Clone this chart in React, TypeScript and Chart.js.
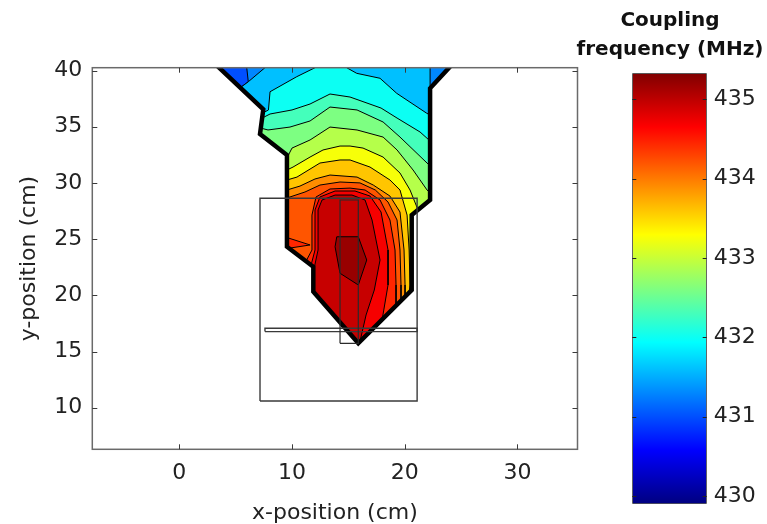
import React, { useEffect, useRef } from 'react';
import { Chart, registerables } from 'chart.js';

Chart.register(...registerables);

// ---------- axes ----------
const xTicks = [0, 10, 20, 30];
const yTicks = [10, 15, 20, 25, 30, 35, 40];
const xRange = [-7.72, 35.33];
const yRange = [6.3, 40.25];

// ---------- colour bar ----------
const colorbarRange = [429.9, 435.33];
const colorbarTicks = [430, 431, 432, 433, 434, 435];

// coupling frequency (MHz) of each filled contour band, lowest first
const contourLevels = [431.0, 431.3, 431.6, 432.0, 432.3, 432.6, 432.9, 433.25, 433.6, 433.9, 434.2, 434.45, 434.7, 434.95, 435.2];

// ---------- scanned region outline (cm) ----------
const scanBoundary: number[][] = [
  [2.74, 41], [7.45, 36.55], [7.16, 34.35], [9.55, 32.48], [9.55, 24.32], [11.89, 22.54], [11.89, 20.32],
  [15.88, 15.73], [20.62, 20.47], [20.62, 27.14], [22.25, 28.48], [22.25, 38.42], [24.63, 41],
];

// ---------- super-level regions (value >= level k), cm ----------
const region0 = scanBoundary;
const region1: number[][] = [
  [5.9, 41], [6.12, 39.0], [5.44, 38.49], [7.45, 36.55], [7.16, 34.35], [9.55, 32.48], [9.55, 24.32], [11.89, 22.54],
  [11.89, 20.32], [15.88, 15.73], [20.62, 20.47], [20.62, 27.14], [22.25, 28.48], [22.25, 38.42], [24.63, 41],
];
const region2: number[][] = [
  [7.75, 41], [7.6, 40.25], [6.12, 39.0], [5.44, 38.49], [7.45, 36.55], [7.16, 34.35], [9.55, 32.48], [9.55, 24.32],
  [11.89, 22.54], [11.89, 20.32], [15.88, 15.73], [20.62, 20.47], [20.62, 27.14], [22.25, 28.48], [22.25, 41],
];
const region3: number[][] = [
  [7.41, 36.22], [7.91, 36.49], [8.05, 38.11], [10.42, 39.45], [12.04, 40.25], [12.04, 41], [14.85, 41], [14.85, 40.25],
  [15.74, 39.75], [17.81, 39.31], [19.29, 37.97], [21.95, 36.2], [22.25, 36.04], [22.25, 28.48], [20.62, 27.14],
  [20.62, 20.47], [15.88, 15.73], [11.89, 20.32], [11.89, 22.54], [9.55, 24.32], [9.55, 32.48], [7.16, 34.35],
];
const region4: number[][] = [
  [7.35, 35.77], [8.05, 36.13], [10.0, 36.49], [11.6, 37.02], [13.37, 37.91], [15.15, 37.64], [17.9, 36.66],
  [19.32, 35.77], [21.36, 34.53], [22.25, 33.73], [22.25, 28.48], [20.62, 27.14], [20.62, 20.47], [15.88, 15.73],
  [11.89, 20.32], [11.89, 22.54], [9.55, 24.32], [9.55, 32.48], [7.16, 34.35],
];
const region5: number[][] = [
  [7.22, 34.88], [7.87, 34.71], [9.82, 34.97], [11.6, 35.51], [13.37, 36.75], [15.77, 36.49], [18.08, 35.42],
  [19.58, 34.08], [21.98, 31.77], [22.25, 31.5], [22.25, 28.48], [20.62, 27.14], [20.62, 20.47], [15.88, 15.73],
  [11.89, 20.32], [11.89, 22.54], [9.55, 24.32], [9.55, 32.48], [7.16, 34.35],
];
const region6: number[][] = [
  [9.55, 32.22], [10.0, 33.1], [11.6, 33.82], [13.37, 34.97], [15.77, 34.71], [18.08, 34.08], [19.32, 32.93],
  [20.74, 31.15], [21.98, 29.37], [22.25, 29.1], [22.25, 28.48], [20.62, 27.14], [20.62, 20.47], [15.88, 15.73],
  [11.89, 20.32], [11.89, 22.54], [9.55, 24.32],
];
const region7: number[][] = [
  [9.55, 31.15], [10.09, 31.41], [11.6, 32.3], [12.75, 32.93], [14.26, 33.28], [15.15, 33.28], [16.3, 33.1],
  [18.08, 32.3], [19.58, 30.88], [20.47, 29.37], [21.18, 27.6], [20.62, 27.14], [20.62, 20.47], [15.88, 15.73],
  [11.89, 20.32], [11.89, 22.54], [9.55, 24.32],
];
const region8: number[][] = [
  [9.55, 30.26], [10.44, 30.52], [12.48, 31.77], [14.26, 32.04], [15.15, 32.04], [16.92, 31.41], [18.69, 30.26],
  [19.58, 29.37], [20.21, 27.14], [20.39, 24.03], [20.47, 20.92], [20.39, 20.24], [15.88, 15.73], [11.89, 20.32],
  [11.89, 22.54], [9.55, 24.32],
];
const region9: number[][] = [
  [9.55, 29.37], [10.71, 29.72], [12.04, 30.35], [13.37, 30.7], [15.77, 30.52], [17.21, 29.81], [18.69, 28.83],
  [19.58, 27.41], [19.94, 24.03], [20.03, 20.92], [20.03, 19.88], [15.88, 15.73], [11.89, 20.32], [11.89, 22.54],
  [9.55, 24.32],
];
const region10: number[][] = [
  [9.55, 28.66], [11.15, 29.19], [12.48, 29.81], [14.26, 30.08], [16.03, 30.0], [17.39, 29.37], [18.52, 28.3],
  [19.32, 26.7], [19.58, 24.03], [19.67, 20.92], [19.67, 19.52], [15.88, 15.73], [11.89, 20.32], [11.89, 22.54],
  [9.55, 24.32],
];
const region11: number[][] = [
  [11.24, 23.04], [11.77, 24.03], [11.77, 27.14], [12.13, 28.75], [13.37, 29.46], [15.15, 29.54], [16.48, 29.37],
  [17.81, 28.48], [18.69, 26.7], [19.14, 24.03], [19.23, 20.92], [19.23, 19.08], [15.88, 15.73], [11.89, 20.32],
  [11.89, 22.54],
];
const region11Edge: number[][] = [[9.55, 25.14], [11.6, 24.48], [9.73, 24.19], [9.55, 24.32]];
const region12: number[][] = [
  [11.69, 22.69], [12.04, 24.03], [12.04, 27.59], [12.48, 28.75], [13.82, 29.28], [15.59, 29.28], [16.92, 28.83],
  [17.9, 27.41], [18.52, 24.03], [18.52, 20.92], [18.0, 17.85], [15.88, 15.73], [11.89, 20.32], [11.89, 22.54],
];
const region13: number[][] = [
  [11.89, 22.07], [12.31, 24.03], [12.31, 27.59], [12.66, 28.48], [13.82, 28.92], [15.32, 28.92], [16.48, 28.48],
  [17.1, 26.7], [17.81, 23.14], [17.3, 20.47], [16.57, 18.25], [16.03, 15.88], [15.88, 15.73], [11.89, 20.32],
];
const region14: number[][] = [
  [13.97, 25.21], [15.88, 25.21], [16.63, 23.14], [15.88, 20.92], [14.26, 21.96], [13.82, 24.32],
];

// ---------- overlay outlines (cm) ----------
const housingRect: number[][] = [[7.16, 10.6], [21.1, 10.6], [21.1, 28.63], [7.16, 28.63]];
const plateRect: number[][] = [[7.6, 16.77], [21.1, 16.77], [21.1, 17.07], [7.6, 17.07]];
const probeRect: number[][] = [[14.26, 15.73], [15.88, 15.73], [15.88, 28.48], [14.26, 28.48]];

// ---------- helpers ----------
function jetRGB(t: number): string {
  const c = (v: number) => Math.round(255 * Math.max(0, Math.min(1, v)));
  return `rgb(${c(1.5 - Math.abs(4 * t - 3))},${c(1.5 - Math.abs(4 * t - 2))},${c(1.5 - Math.abs(4 * t - 1))})`;
}
function levelColor(v: number): string {
  return jetRGB((v - colorbarRange[0]) / (colorbarRange[1] - colorbarRange[0]));
}
const FONT = 'DejaVu Sans';
const TEXT = '#222';

export default function App() {
  const mainRef = useRef<HTMLCanvasElement>(null);
  const barRef = useRef<HTMLCanvasElement>(null);

  useEffect(() => {
    const closed = (arr: number[][]) => [...arr, arr[0]].map(([x, y]) => ({ x, y }));
    const regions = [region0, region1, region2, region3, region4, region5, region6, region7, region8, region9,
      region10, region11, region12, region13, region14];
    const drawList: any[] = [];
    regions.forEach((pts, k) => {
      drawList.push({ pts, fill: levelColor(contourLevels[k]), color: '#000', width: 1 });
      if (k === 11) drawList.push({ pts: region11Edge, fill: levelColor(contourLevels[11]), color: '#000', width: 1 });
    });
    drawList.push({ pts: scanBoundary, fill: null, color: '#000', width: 4.5 });
    drawList.push({ pts: housingRect, fill: null, color: '#3a3a3a', width: 1.4 });
    drawList.push({ pts: plateRect, fill: null, color: '#3a3a3a', width: 1.4 });
    drawList.push({ pts: probeRect, fill: null, color: '#2a2a2a', width: 1.2 });

    const datasets = drawList.map((d, i) => ({
      data: closed(d.pts),
      fill: d.fill ? 'shape' : false,
      backgroundColor: d.fill || 'rgba(0,0,0,0)',
      borderColor: d.color,
      borderWidth: d.width,
      borderJoinStyle: 'miter',
      pointRadius: 0,
      tension: 0,
      clip: 0,
      order: drawList.length - i,
    }));

    const framePlugin = {
      id: 'frame',
      afterDatasetsDraw(chart: any) {
        const { ctx, chartArea: a, scales } = chart;
        ctx.save();
        ctx.strokeStyle = '#6a6a6a';
        ctx.lineWidth = 1.5;
        ctx.strokeRect(a.left, a.top, a.right - a.left, a.bottom - a.top);
        ctx.strokeStyle = '#3a3a3a';
        ctx.lineWidth = 1;
        ctx.beginPath();
        for (const v of xTicks) {
          const p = Math.round(scales.x.getPixelForValue(v)) + 0.5;
          ctx.moveTo(p, a.bottom); ctx.lineTo(p, a.bottom - 5);
          ctx.moveTo(p, a.top); ctx.lineTo(p, a.top + 5);
        }
        for (const v of yTicks) {
          const p = Math.round(scales.y.getPixelForValue(v)) + 0.5;
          ctx.moveTo(a.left, p); ctx.lineTo(a.left + 5, p);
          ctx.moveTo(a.right, p); ctx.lineTo(a.right - 5, p);
        }
        ctx.stroke();
        ctx.restore();
      },
    };

    const main = new Chart(mainRef.current as HTMLCanvasElement, {
      type: 'line',
      data: { datasets: datasets as any },
      options: {
        responsive: false,
        animation: false,
        events: [],
        layout: { padding: { left: 0, top: 67.7, right: 189.5, bottom: 0 } },
        plugins: { legend: { display: false }, tooltip: { enabled: false } },
        scales: {
          x: {
            type: 'linear', min: xRange[0], max: xRange[1],
            grid: { display: false, drawTicks: false }, border: { display: false },
            afterBuildTicks: (s: any) => { s.ticks = xTicks.map((v) => ({ value: v })); },
            afterFit: (s: any) => { s.height = 74.7; },
            ticks: { padding: 11, autoSkip: false, maxRotation: 0, color: TEXT, font: { family: FONT, size: 22 } },
            title: { display: true, text: 'x-position (cm)', color: TEXT, padding: { top: 0, bottom: 0 }, font: { family: FONT, size: 22, lineHeight: 1 } },
          },
          y: {
            type: 'linear', min: yRange[0], max: yRange[1],
            grid: { display: false, drawTicks: false }, border: { display: false },
            afterBuildTicks: (s: any) => { s.ticks = yTicks.map((v) => ({ value: v })); },
            afterFit: (s: any) => { s.width = 92.3; },
            ticks: { padding: 10, autoSkip: false, color: TEXT, font: { family: FONT, size: 22 } },
            title: { display: true, text: 'y-position (cm)', color: TEXT, padding: { top: 18, bottom: 0 }, font: { family: FONT, size: 22, lineHeight: 1 } },
          },
        },
      } as any,
      plugins: [framePlugin],
    });

    const cbTickPlugin = {
      id: 'cbticks',
      afterDatasetsDraw(chart: any) {
        const { ctx, chartArea: a, scales } = chart;
        ctx.save();
        ctx.strokeStyle = '#222';
        ctx.lineWidth = 1;
        ctx.beginPath();
        for (const v of colorbarTicks) {
          const p = Math.round(scales.y.getPixelForValue(v)) + 0.5;
          ctx.moveTo(a.left, p); ctx.lineTo(a.left + 4, p);
          ctx.moveTo(a.right, p); ctx.lineTo(a.right - 4, p);
        }
        ctx.stroke();
        ctx.restore();
      },
    };

    const bar = new Chart(barRef.current as HTMLCanvasElement, {
      type: 'bar',
      data: {
        labels: [''],
        datasets: [{
          data: [[colorbarRange[0], colorbarRange[1]]] as any,
          backgroundColor: (c: any) => {
            const a = c.chart.chartArea;
            if (!a) return '#000080';
            const g = c.chart.ctx.createLinearGradient(0, a.bottom, 0, a.top);
            [0, 0.125, 0.375, 0.625, 0.875, 1].forEach((t) => g.addColorStop(t, jetRGB(t)));
            return g;
          },
          borderColor: '#222',
          borderWidth: 1,
          borderSkipped: false,
          barPercentage: 1,
          categoryPercentage: 1,
        }],
      },
      options: {
        responsive: false,
        animation: false,
        events: [],
        layout: { padding: { left: 632.3, right: 0, top: 73.3, bottom: 5.7 } },
        plugins: { legend: { display: false }, tooltip: { enabled: false } },
        scales: {
          x: { display: false },
          y: {
            position: 'right', min: colorbarRange[0], max: colorbarRange[1],
            grid: { display: false, drawTicks: false }, border: { display: false },
            afterBuildTicks: (s: any) => { s.ticks = colorbarTicks.map((v) => ({ value: v })); },
            afterFit: (s: any) => { s.width = 60.3; },
            ticks: { padding: 7, color: TEXT, font: { family: FONT, size: 22 } },
          },
        },
      } as any,
      plugins: [cbTickPlugin],
    });

    return () => { main.destroy(); bar.destroy(); };
  }, []);

  return (
    <div style={{ position: 'fixed', left: 0, top: 0, width: 767, height: 524, background: '#fff', overflow: 'hidden' }}>
      <canvas ref={mainRef} width={767} height={524} style={{ position: 'absolute', left: 0, top: 0 }} />
      <canvas ref={barRef} width={767} height={524} style={{ position: 'absolute', left: 0, top: 0 }} />
      <div style={{
        position: 'absolute', left: 560, top: 5, width: 220, textAlign: 'center',
        fontFamily: '"DejaVu Sans"', fontWeight: 'bold', fontSize: 20, lineHeight: '29px', color: '#111',
      }}>
        Coupling<br />frequency (MHz)
      </div>
    </div>
  );
}
